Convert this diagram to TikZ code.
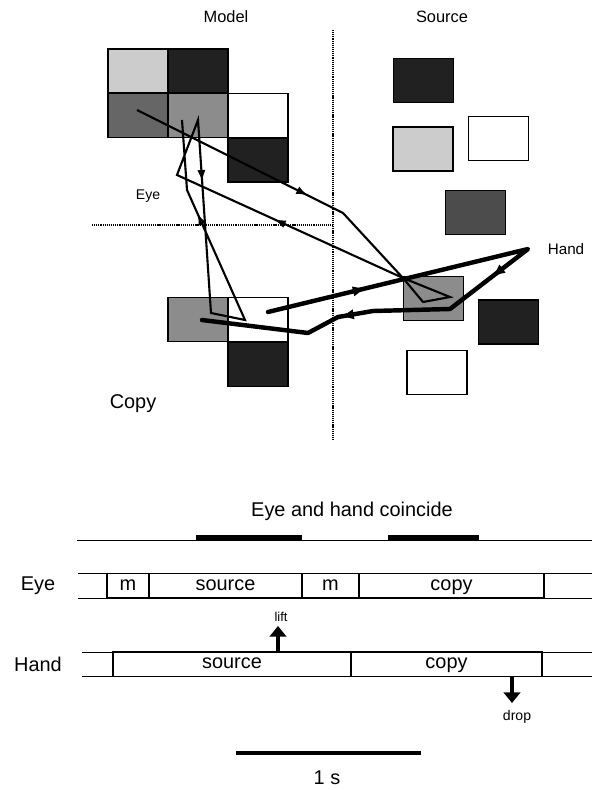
\documentclass[tikz,border=0pt]{standalone}
\usepackage{fontspec}
\setmainfont{Liberation Sans}
\usetikzlibrary{arrows.meta,decorations.markings}
\definecolor{PatchLight}{gray}{0.80}
\definecolor{PatchMid}{gray}{0.55}
\definecolor{PatchDeep}{gray}{0.40}
\definecolor{PatchDark}{gray}{0.13}

\begin{document}
\begin{tikzpicture}[
    x=0.03cm, y=-0.03cm,
    patch/.style={draw, line width=0.9pt, fill=#1, minimum width=1.8cm, minimum height=1.32cm, inner sep=0pt},
    divider/.style={line width=1.2pt, dash pattern=on 1pt off 0.8pt},
    eyetrace/.style={line width=1.8pt, line join=miter},
    handtrace/.style={line width=3.8pt, line join=round, line cap=round},
    eyetip/.style={postaction={decorate}, decoration={markings, mark=at position #1 with {\arrow{Latex[length=10pt,width=7pt]}}}},
    handtip/.style={postaction={decorate}, decoration={markings, mark=at position #1 with {\arrow{Latex[length=12pt,width=9pt]}}}},
    cell/.style={draw, line width=0.9pt, minimum width=#1*0.03cm, minimum height=0.74cm, inner sep=0pt, text height=11pt, text depth=3pt, font=\fontsize{17}{19}\selectfont},
    rowline/.style={line width=0.8pt},
    lbl/.style={inner sep=0pt, font=\fontsize{#1}{#1}\selectfont},
    pointer/.style={line width=2.6pt, -{Triangle[length=9pt,width=14pt]}}
  ]
    \useasboundingbox (0,0) rectangle (592,790);

    % model arrangement
    \node[patch=PatchLight] (mod11) at (138,71) {};
    \node[patch=PatchDark]  (mod12) at (198,71) {};
    \node[patch=PatchDeep]  (mod21) at (138,115.5) {};
    \node[patch=PatchMid]   (mod22) at (198,115.5) {};
    \node[patch=white]      (mod23) at (258,115.5) {};
    \node[patch=PatchDark]  (mod33) at (258,160) {};

    % source area
    \node[patch=PatchDark]  (src1) at (423.5,80.5) {};
    \node[patch=PatchLight] (src2) at (423,149) {};
    \node[patch=white]      (src3) at (498.5,138.5) {};
    \node[patch=black!70]   (src4) at (475.5,212.5) {};
    \node[patch=PatchMid]   (src5) at (433.5,298.5) {};
    \node[patch=PatchDark]  (src6) at (508.5,322) {};
    \node[patch=white]      (src7) at (437,372.5) {};

    % copy under construction
    \node[patch=PatchMid]  (cop1) at (198,319.5) {};
    \node[patch=white]     (cop2) at (258,319.5) {};
    \node[patch=PatchDark] (cop3) at (258,364.5) {};

    \draw[divider] (333,30) -- (333,440);
    \draw[divider] (92,225) -- (333,225);

    \node[lbl=14] (model) at (226,17) {Model};
    \node[lbl=14] (source) at (442,17) {Source};
    \node[lbl=12] (eyetag) at (148,196) {Eye};
    \node[lbl=13] (handtag) at (566,249) {Hand};
    \node[lbl=17] (copy) at (133,404) {Copy};

    % eye trace
    \coordinate (e1) at (137,110);
    \coordinate (e2) at (343,213);
    \coordinate (e3) at (403,278);
    \coordinate (e4) at (450,297);
    \coordinate (e5) at (423,302);
    \coordinate (e6) at (177,175);
    \coordinate (e7) at (198,120);
    \coordinate (e8) at (211,313);
    \coordinate (e9) at (245,320);
    \coordinate (e10) at (187,190);
    \coordinate (e11) at (182,120);
    \draw[eyetrace] (e1) -- (e2) -- (e3) -- (e4) -- (e5) -- (e3) -- (e6) -- (e7) -- (e8) -- (e9) -- (e10) -- (e11);
    \path[eyetrace, eyetip=0.83] (e1) -- (e2);
    \path[eyetrace, eyetip=0.57] (e3) -- (e6);
    \path[eyetrace, eyetip=0.32] (e7) -- (e8);
    \path[eyetrace, eyetip=0.82] (e9) -- (e10);

    % hand trace
    \coordinate (h1) at (268,312);
    \coordinate (h2) at (528,249);
    \coordinate (h3) at (450,309);
    \coordinate (h4) at (373,311);
    \coordinate (h5) at (338,317);
    \coordinate (h6) at (308,333);
    \coordinate (h7) at (202,320);
    \draw[handtrace] (h1) -- (h2) -- (h3) -- (h4) -- (h5) -- (h6) -- (h7);
    \path[handtrace, handtip=0.38] (h1) -- (h2);
    \path[handtrace, handtip=0.47] (h2) -- (h3);
    \path[handtrace, handtip=0.95] (h4) -- (h5);

    % timeline
    \node[lbl=17] (coincide) at (352,511) {Eye and hand coincide};
    \draw[rowline] (77,540) -- (592,540);
    \draw[line width=4.2pt] (196,537.5) -- (302,537.5);
    \draw[line width=4.2pt] (388,537.5) -- (479,537.5);

    \node[lbl=17] (eyerow) at (38,585.5) {Eye};
    \draw[rowline] (78,573) -- (592,573);
    \draw[rowline] (78,598) -- (592,598);
    \node[cell=42]  (em1) at (128,585.5) {m};
    \node[cell=153] (esrc) at (225.5,585.5) {source};
    \node[cell=57]  (em2) at (330.5,585.5) {m};
    \node[cell=185] (ecop) at (451.5,585.5) {copy};

    \node[lbl=17] (handrow) at (38,664) {Hand};
    \draw[rowline] (82,652) -- (592,652);
    \draw[rowline] (82,676) -- (592,676);
    \node[cell=238] (hsrc) at (232,664) {source};
    \node[cell=191] (hcop) at (446.5,664) {copy};

    \coordinate (liftat) at (278,652);
    \coordinate (dropat) at (512,676);
    \draw[pointer] (liftat) -- ++(0,-26);
    \draw[pointer] (dropat) -- ++(0,27);
    \node[lbl=11] (lift) at (281,617) {lift};
    \node[lbl=12] (drop) at (517,717) {drop};

    \draw[line width=2.8pt] (236,753) -- (421,753);
    \node[lbl=17] (onesec) at (327,778) {1 s};
  \end{tikzpicture}
\end{document}
